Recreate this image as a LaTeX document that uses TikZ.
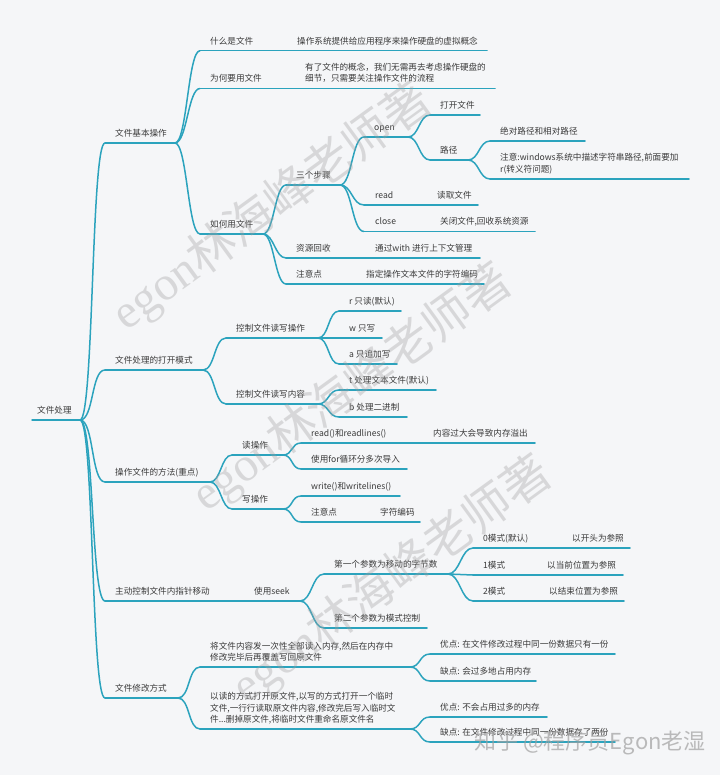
\documentclass[tikz,border=0pt]{standalone}
\usepackage{fontspec}
\setmainfont{Noto Sans CJK SC}
\newfontfamily\wmserif{Liberation Serif}
\definecolor{bgc}{HTML}{F5F6F8}
\definecolor{lnc}{HTML}{2BA3BD}
\definecolor{txc}{HTML}{3A3A3A}
\definecolor{wmc}{HTML}{A0A0A0}
\tikzset{
  ul/.style={draw=lnc,line width=1.5pt,line cap=round},
  conn/.style={draw=lnc,line width=1.5pt},
  lbl/.style={anchor=base west,inner sep=0pt,text=txc,align=left,
    font=\fontsize{8.6pt}{11.5pt}\selectfont},
  wmark/.style={inner sep=0pt,text=wmc,text opacity=0.35,
    font=\fontsize{48pt}{48pt}\selectfont},
}
% name, xstart, underline y, xend, text x, text (base = last line)
\newcommand\mm[6]{%
  \coordinate (#1s) at (#2,#3);\coordinate (#1e) at (#4,#3);
  \draw[ul] (#1s)--(#1e);
  \node[lbl] (#1) at (#5,#3) [yshift=6.5pt] {#6};}
\newcommand\cn[3]{\draw[conn] (#1) .. controls +(#3,0) and +(-#3,0) .. (#2);}
\begin{document}
\begin{tikzpicture}[x=1pt,y=-1pt]
\useasboundingbox (0,0) rectangle (720,775);
\fill[bgc] (0,0) rectangle (720,775);

% root
\mm{R}{32}{420}{80}{37}{文件处理}
% level 1
\mm{A}{105}{143}{175}{115}{文件基本操作}
\mm{B}{105}{370}{203}{115}{文件处理的打开模式}
\mm{C}{105}{482}{210}{115}{操作文件的方法(重点)}
\mm{D}{105}{601}{246}{115}{主动控制文件内指针移动}
\mm{D1}{246}{601}{300}{254}{使用seek}
\mm{E}{105}{698}{178}{115}{文件修改方式}
\cn{Re}{As}{14}\cn{Re}{Bs}{14}\cn{Re}{Cs}{14}\cn{Re}{Ds}{14}\cn{Re}{Es}{14}

% A
\mm{A1}{200}{50.7}{289}{210}{什么是文件}
\mm{A1a}{289}{50.7}{487}{297}{操作系统提供给应用程序来操作硬盘的虚拟概念}
\mm{A2}{200}{88.5}{297}{210}{为何要用文件}
\mm{A2a}{297}{88.5}{495}{305}{有了文件的概念，我们无需再去考虑操作硬盘的\\细节，只需要关注操作文件的流程}
\mm{A3}{200}{234}{263}{210}{如何用文件}
\cn{Ae}{A1s}{12}\cn{Ae}{A2s}{12}\cn{Ae}{A3s}{12}

\mm{A31}{286}{185}{340}{296}{三个步骤}
\mm{A32}{286}{258}{367}{296}{资源回收}
\mm{A32a}{367}{258}{480}{375}{通过with 进行上下文管理}
\mm{A33}{286}{284}{358}{296}{注意点}
\mm{A33a}{358}{284}{484}{366}{指定操作文本文件的字符编码}
\cn{A3e}{A31s}{11}\cn{A3e}{A32s}{11}\cn{A3e}{A33s}{11}

\mm{O}{364}{137}{408}{374}{open}
\mm{Rd}{364}{205}{429}{375}{read}
\mm{Rda}{429}{205}{478}{437}{读取文件}
\mm{Cl}{364}{231.5}{432}{375}{close}
\mm{Cla}{432}{231.5}{535}{440}{关闭文件,回收系统资源}
\cn{A31e}{Os}{12}\cn{A31e}{Rds}{12}\cn{A31e}{Cls}{12}

\mm{O1}{430}{115}{480}{440}{打开文件}
\mm{O2}{430}{160}{468}{440}{路径}
\cn{Oe}{O1s}{11}\cn{Oe}{O2s}{11}

\mm{P1}{490}{141}{585}{500}{绝对路径和相对路径}
\mm{P2}{490}{179}{689}{500}{注意:windows系统中描述字符串路径,前面要加\\r(转义符问题)}
\cn{O2e}{P1s}{11}\cn{O2e}{P2s}{11}

% B
\mm{B1}{226}{338}{318}{236}{控制文件读写操作}
\mm{B2}{226}{404}{318}{236}{控制文件读写内容}
\cn{Be}{B1s}{12}\cn{Be}{B2s}{12}
\mm{B11}{339}{311}{401}{349}{r 只读(默认)}
\mm{B12}{339}{338}{382}{349}{w 只写}
\mm{B13}{339}{364}{397}{349}{a 只追加写}
\cn{B1e}{B11s}{11}\cn{B1e}{B12s}{11}\cn{B1e}{B13s}{11}
\mm{B21}{339}{390}{436}{349}{t 处理文本文件(默认)}
\mm{B22}{339}{417}{407}{349}{b 处理二进制}
\cn{B2e}{B21s}{11}\cn{B2e}{B22s}{11}

% C
\mm{C1}{232}{455}{283}{242}{读操作}
\mm{C2}{232}{509}{283}{242}{写操作}
\cn{Ce}{C1s}{11}\cn{Ce}{C2s}{11}
\mm{C11}{301}{443}{425}{311}{read()和readlines()}
\mm{C11a}{425}{443}{535}{433}{内容过大会导致内存溢出}
\mm{C12}{301}{469}{407}{311}{使用for循环分多次导入}
\cn{C1e}{C11s}{10}\cn{C1e}{C12s}{10}
\mm{C21}{301}{496}{400}{311}{write()和writelines()}
\mm{C22}{301}{522}{372}{311}{注意点}
\mm{C22a}{372}{522}{420}{380}{字符编码}
\cn{C2e}{C21s}{10}\cn{C2e}{C22s}{10}

% D
\mm{S1}{324}{574}{448}{334}{第一个参数为移动的字节数}
\mm{S2}{324}{628}{427}{334}{第二个参数为模式控制}
\cn{D1e}{S1s}{12}\cn{D1e}{S2s}{12}
\mm{M0}{473}{548}{564}{483}{0模式(默认)}
\mm{M0a}{564}{548}{630}{572}{以开头为参照}
\mm{M1}{473}{575}{539}{483}{1模式}
\mm{M1a}{539}{575}{623}{547}{以当前位置为参照}
\mm{M2}{473}{601}{541}{483}{2模式}
\mm{M2a}{541}{601}{624}{549}{以结束位置为参照}
\cn{S1e}{M0s}{12}\cn{S1e}{M1s}{12}\cn{S1e}{M2s}{12}

% E
\mm{E1}{200}{667}{410}{210}{将文件内容发一次性全部读入内存,然后在内存中\\修改完毕后再覆盖写回原文件}
\mm{E2}{200}{729}{410}{210}{以读的方式打开原文件,以写的方式打开一个临时\\文件,一行行读取原文件内容,修改完后写入临时文\\件...删掉原文件,将临时文件重命名原文件名}
\cn{Ee}{E1s}{12}\cn{Ee}{E2s}{12}
\mm{E11}{430}{654}{615}{440}{优点: 在文件修改过程中同一份数据只有一份}
\mm{E12}{430}{681}{536}{440}{缺点: 会过多地占用内存}
\cn{E1e}{E11s}{11}\cn{E1e}{E12s}{11}
\mm{E21}{430}{717}{547}{440}{优点: 不会占用过多的内存}
\mm{E22}{430}{742}{615}{440}{缺点: 在文件修改过程中同一份数据存了两份}
\cn{E2e}{E21s}{11}\cn{E2e}{E22s}{11}

% watermarks
\node[wmark,rotate=36] (wm1) at (272,207) {{\wmserif egon}林海峰老师著};
\node[wmark,rotate=36] (wm2) at (352,388) {{\wmserif egon}林海峰老师著};
\node[wmark,rotate=36] (wm3) at (392,580) {{\wmserif egon}林海峰老师著};
\node[inner sep=0pt,text=wmc,text opacity=0.7,font=\fontsize{22pt}{22pt}\selectfont] (zh) at (590,743) {知乎 @程序员Egon老湿};
\end{tikzpicture}
\end{document}
